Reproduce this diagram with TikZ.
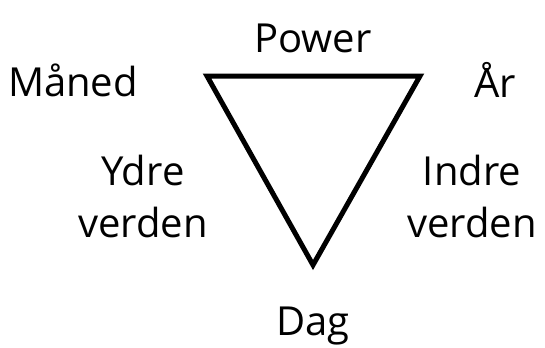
\documentclass[tikz,border=0pt]{standalone}
\usepackage{fontspec}
\setmainfont{Open Sans}
\begin{document}
\begin{tikzpicture}[x=1bp,y=-1bp,
  lbl/.style={font=\fontsize{40bp}{52bp}\selectfont, inner sep=0pt, align=center},
  tri/.style={line width=5bp, line join=miter}]
\useasboundingbox (0,0) rectangle (545,347);
\coordinate (tl) at (207,76);
\coordinate (tr) at (420,76);
\coordinate (b) at (313,265);
\draw[tri] (tl) -- (tr) -- (b) -- cycle;
\node[lbl] (power) at (313,38) {Power};
\node[lbl] (maned) at (73,80) {Måned};
\node[lbl] (ar) at (495,80) {År};
\node[lbl] (ydre) at (143,196) {Ydre\\verden};
\node[lbl] (indre) at (472,196) {Indre\\verden};
\node[lbl] (dag) at (313,326) {Dag};
\end{tikzpicture}
\end{document}
